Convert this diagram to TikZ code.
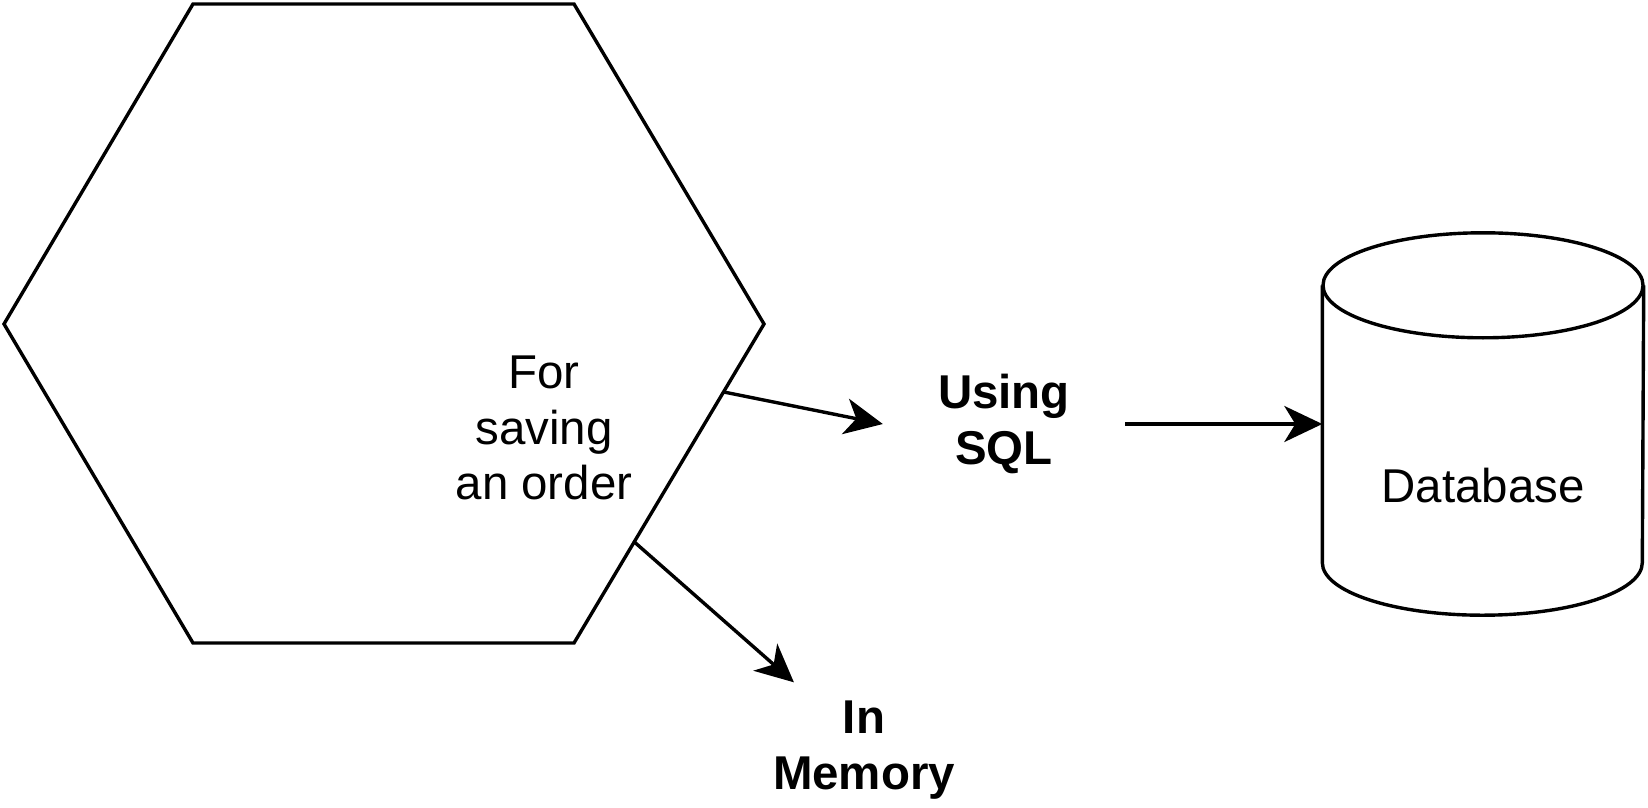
\documentclass[tikz,border=0pt]{standalone}
\usepackage{fontspec}
\setmainfont{Liberation Sans}
\usetikzlibrary{shapes.geometric, arrows.meta, positioning, calc}
\tikzstyle{arrow} = [line width=0.34mm, -{Stealth[length=3.8mm, width=3.6mm, inset=1.1mm]}]
\tikzstyle{outline} = [line width=0.34mm, line join=miter]
\tikzstyle{plain} = [align=center, inner sep=0pt, font=\fontsize{13.5}{15.9}\selectfont]
\tikzstyle{boldlabel} = [plain, font=\fontsize{13.5}{15.9}\selectfont\bfseries, minimum width=24.1mm, minimum height=13.4mm]
\tikzstyle{database} = [plain, minimum width=32mm, minimum height=38.1mm]

\begin{document}
\begin{tikzpicture}[x=0.1mm, y=0.1mm, node distance=1.5cm]
\useasboundingbox (0,0) rectangle (1648,807);

% Hexagon (the application)
\coordinate (hexNW) at (193,803);
\coordinate (hexNE) at (574,803);
\coordinate (hexE) at (764,483);
\coordinate (hexSE) at (574,164);
\coordinate (hexSW) at (193,164);
\coordinate (hexW) at (4,483);
\draw [outline] (hexNW) -- (hexNE) -- (hexE) -- (hexSE) -- (hexSW) -- (hexW) -- cycle;
\coordinate (outSql) at ($(hexE)!0.213!(hexSE)$);
\coordinate (outMem) at ($(hexE)!0.683!(hexSE)$);

% Placement of nodes
\node (order) [plain] at (544,379) {For\\saving\\an order};
\node (sql) [boldlabel] at (1004,383) {Using\\SQL};
\node (db) [database, right of=sql, node distance=47.9mm] {};
\node (dbText) [plain] at ([yshift=-6.15mm]db.center) {Database};
\node (mem) [boldlabel] at (864,57) {In\\Memory};

% Cylinder
\draw [outline] ($(db.north west)+(0,-52.5)$) -- ($(db.south west)+(0,52.5)$)
  arc[start angle=180, end angle=360, x radius=16mm, y radius=5.25mm]
  -- ($(db.north east)+(0,-52.5)$);
\draw [outline] ($(db.north)+(0,-52.5)$) ellipse [x radius=16mm, y radius=5.25mm];

% Placement of edges
\draw [arrow] (outSql) -- (sql.west);
\draw [arrow] (sql) -- (db);
\draw [arrow] (outMem) -- (mem.136);

\end{tikzpicture}
\end{document}
